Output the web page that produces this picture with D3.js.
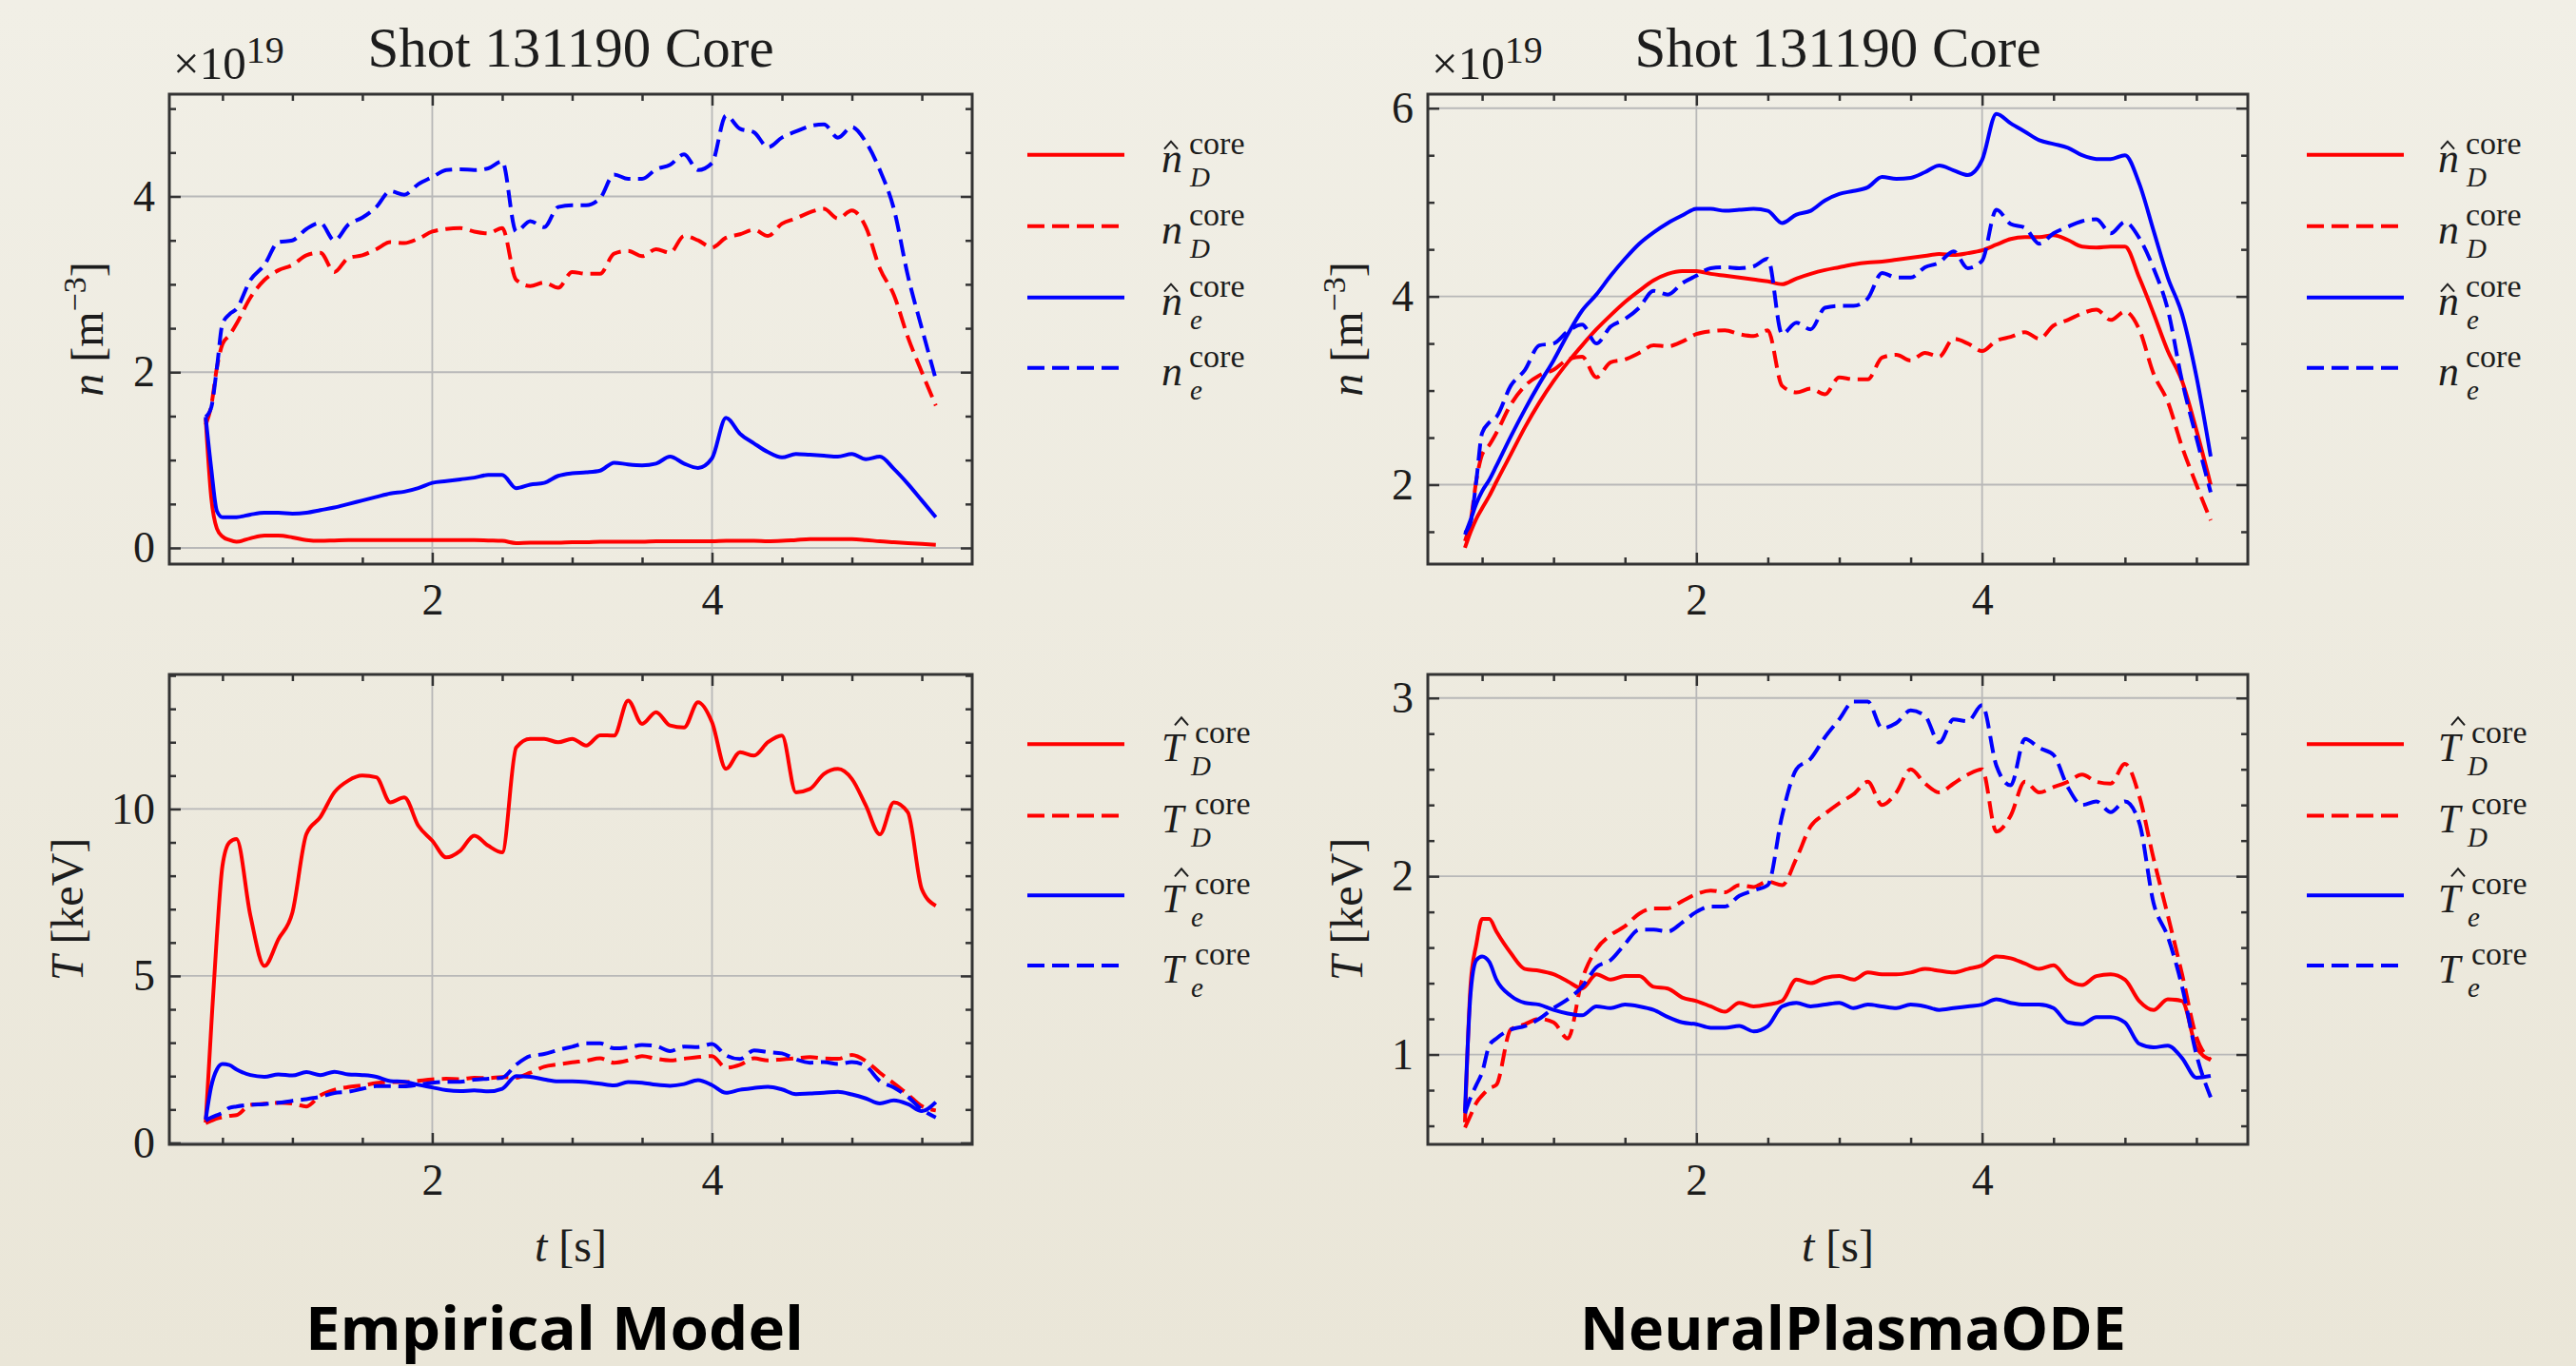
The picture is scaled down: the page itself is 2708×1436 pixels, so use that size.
<!DOCTYPE html>
<html>
<head>
<meta charset="utf-8">
<script src="https://cdn.jsdelivr.net/npm/d3@7"></script>
<style>
  html, body { margin: 0; padding: 0; }
  body { width: 2708px; height: 1436px; overflow: hidden; }
  svg { display: block; }
</style>
</head>
<body>
<script>
// time base shared by every series [s]
const t = [
    0.38, 0.42, 0.46, 0.5, 0.55, 0.6, 0.7, 0.8, 0.9, 1.0,
    1.1, 1.2, 1.3, 1.4, 1.5, 1.6, 1.7, 1.8, 1.9, 2.0,
    2.1, 2.2, 2.3, 2.4, 2.5, 2.6, 2.7, 2.8, 2.9, 3.0,
    3.1, 3.2, 3.3, 3.4, 3.5, 3.6, 3.7, 3.8, 3.9, 4.0,
    4.1, 4.2, 4.3, 4.4, 4.5, 4.6, 4.7, 4.8, 4.9, 5.0,
    5.1, 5.2, 5.3, 5.4, 5.5, 5.6]

// densities, x1e19 m^-3
const nD_meas = [
    1.4, 1.62, 2.05, 2.32, 2.42, 2.55, 2.85, 3.05, 3.16, 3.22,
    3.33, 3.36, 3.14, 3.3, 3.33, 3.4, 3.48, 3.47, 3.52, 3.6,
    3.63, 3.64, 3.6, 3.58, 3.64, 3.05, 2.98, 3.02, 2.96, 3.14,
    3.12, 3.12, 3.35, 3.38, 3.32, 3.4, 3.36, 3.55, 3.5, 3.42,
    3.53, 3.57, 3.62, 3.55, 3.69, 3.75, 3.82, 3.86, 3.75, 3.84,
    3.65, 3.18, 2.88, 2.4, 2.0, 1.62]
const ne_meas = [
    1.49, 1.6, 2.05, 2.55, 2.66, 2.72, 3.05, 3.22, 3.48, 3.5,
    3.63, 3.7, 3.5, 3.68, 3.76, 3.88, 4.06, 4.02, 4.14, 4.22,
    4.3, 4.31, 4.3, 4.32, 4.4, 3.6, 3.72, 3.65, 3.88, 3.9,
    3.9, 3.98, 4.25, 4.2, 4.2, 4.31, 4.36, 4.48, 4.3, 4.38,
    4.92, 4.77, 4.73, 4.56, 4.67, 4.74, 4.8, 4.82, 4.67, 4.79,
    4.62, 4.3, 3.86, 3.1, 2.5, 1.92]
const nD_emp = [
    1.47, 0.57, 0.22, 0.13, 0.09, 0.07, 0.11, 0.14, 0.14, 0.12,
    0.09, 0.08, 0.085, 0.09, 0.09, 0.09, 0.09, 0.09, 0.09, 0.09,
    0.09, 0.09, 0.09, 0.085, 0.08, 0.055, 0.06, 0.06, 0.06, 0.065,
    0.065, 0.07, 0.07, 0.07, 0.07, 0.075, 0.075, 0.075, 0.075, 0.075,
    0.08, 0.08, 0.08, 0.075, 0.08, 0.09, 0.1, 0.1, 0.1, 0.1,
    0.09, 0.075, 0.065, 0.055, 0.045, 0.035]
const ne_emp = [
    1.49, 0.9, 0.42, 0.35, 0.35, 0.35, 0.38, 0.40, 0.40, 0.39,
    0.40, 0.43, 0.46, 0.50, 0.54, 0.58, 0.62, 0.64, 0.68, 0.74,
    0.76, 0.78, 0.80, 0.83, 0.83, 0.68, 0.72, 0.74, 0.82, 0.85,
    0.86, 0.88, 0.97, 0.95, 0.94, 0.96, 1.04, 0.96, 0.91, 1.02,
    1.48, 1.30, 1.19, 1.09, 1.03, 1.07, 1.06, 1.05, 1.04, 1.07,
    1.01, 1.04, 0.90, 0.73, 0.54, 0.35]
const nD_node = [
    1.33, 1.5, 1.64, 1.75, 1.88, 2.03, 2.32, 2.61, 2.87, 3.1,
    3.30, 3.48, 3.65, 3.80, 3.94, 4.06, 4.17, 4.24, 4.27, 4.27,
    4.24, 4.22, 4.2, 4.18, 4.16, 4.13, 4.19, 4.24, 4.28, 4.31,
    4.34, 4.36, 4.37, 4.39, 4.41, 4.43, 4.45, 4.44, 4.46, 4.49,
    4.55, 4.61, 4.63, 4.63, 4.65, 4.6, 4.53, 4.52, 4.53, 4.53,
    4.2, 3.82, 3.42, 3.1, 2.58, 2.0]
const ne_node = [
    1.47, 1.63, 1.8, 1.93, 2.05, 2.2, 2.51, 2.8, 3.07, 3.32,
    3.6, 3.85, 4.02, 4.22, 4.4, 4.56, 4.68, 4.78, 4.86, 4.93,
    4.93, 4.91, 4.92, 4.93, 4.91, 4.78, 4.87, 4.91, 5.02, 5.09,
    5.12, 5.16, 5.27, 5.25, 5.26, 5.32, 5.39, 5.34, 5.29, 5.45,
    5.94, 5.84, 5.75, 5.66, 5.62, 5.58, 5.5, 5.46, 5.46, 5.5,
    5.2, 4.7, 4.2, 3.81, 3.15, 2.3]

// temperatures, keV
const TD_meas = [
    0.59, 0.66, 0.73, 0.77, 0.81, 0.83, 1.14, 1.17, 1.2, 1.18,
    1.09, 1.42, 1.59, 1.67, 1.72, 1.79, 1.82, 1.82, 1.86, 1.9,
    1.92, 1.91, 1.95, 1.94, 1.97, 1.95, 2.1, 2.28, 2.35, 2.41,
    2.46, 2.53, 2.4, 2.47, 2.6, 2.52, 2.47, 2.52, 2.57, 2.6,
    2.25, 2.34, 2.53, 2.47, 2.5, 2.53, 2.57, 2.53, 2.52, 2.63,
    2.45, 2.1, 1.78, 1.45, 1.1, 0.97]
const Te_meas = [
    0.67, 0.76, 0.83, 0.9, 1.05, 1.09, 1.14, 1.16, 1.2, 1.26,
    1.31, 1.38, 1.49, 1.53, 1.62, 1.7, 1.7, 1.69, 1.74, 1.8,
    1.83, 1.83, 1.89, 1.92, 1.95, 2.34, 2.6, 2.66, 2.78, 2.88,
    2.98, 2.98, 2.83, 2.86, 2.93, 2.9, 2.75, 2.88, 2.87, 2.96,
    2.62, 2.51, 2.77, 2.72, 2.68, 2.5, 2.4, 2.42, 2.36, 2.42,
    2.3, 1.85, 1.66, 1.38, 1.0, 0.76]
const TD_emp = [
    0.61, 3.5, 6.2, 8.3, 9.0, 9.1, 6.8, 5.3, 6.1, 6.9,
    9.25, 9.76, 10.5, 10.85, 11.0, 10.95, 10.2, 10.35, 9.5, 9.05,
    8.55, 8.75, 9.2, 8.9, 8.7, 11.84, 12.1, 12.1, 12.0, 12.1,
    11.9, 12.21, 12.2, 13.25, 12.55, 12.9, 12.5, 12.44, 13.2, 12.6,
    11.2, 11.7, 11.6, 12.0, 12.2, 10.5, 10.6, 11.05, 11.2, 10.9,
    10.1, 9.24, 10.2, 9.9, 7.6, 7.1]
const Te_emp = [
    0.7, 1.7, 2.2, 2.36, 2.33, 2.2, 2.03, 1.98, 2.05, 2.02,
    2.12, 2.03, 2.13, 2.05, 2.03, 1.98, 1.85, 1.83, 1.74, 1.66,
    1.58, 1.55, 1.57, 1.54, 1.62, 2.0, 1.98, 1.9, 1.84, 1.84,
    1.82, 1.77, 1.72, 1.82, 1.8, 1.74, 1.71, 1.76, 1.88, 1.73,
    1.5, 1.59, 1.64, 1.68, 1.6, 1.46, 1.48, 1.5, 1.53, 1.45,
    1.33, 1.18, 1.27, 1.16, 0.95, 1.22]
const TD_node = [
    0.62, 1.4, 1.62, 1.76, 1.76, 1.69, 1.57, 1.48, 1.47, 1.45,
    1.41, 1.37, 1.45, 1.42, 1.44, 1.44, 1.38, 1.37, 1.32, 1.3,
    1.27, 1.24, 1.29, 1.27, 1.28, 1.3, 1.42, 1.4, 1.43, 1.44,
    1.42, 1.46, 1.45, 1.45, 1.46, 1.48, 1.47, 1.46, 1.48, 1.5,
    1.55, 1.54, 1.51, 1.48, 1.5, 1.42, 1.39, 1.44, 1.45, 1.42,
    1.3, 1.25, 1.31, 1.3, 1.04, 0.97]
const Te_node = [
    0.68, 1.35, 1.53, 1.55, 1.52, 1.42, 1.33, 1.29, 1.28, 1.25,
    1.23, 1.22, 1.27, 1.26, 1.28, 1.27, 1.25, 1.21, 1.18, 1.17,
    1.15, 1.15, 1.16, 1.13, 1.16, 1.27, 1.29, 1.27, 1.28, 1.29,
    1.26, 1.28, 1.27, 1.26, 1.28, 1.27, 1.25, 1.26, 1.27, 1.28,
    1.31, 1.29, 1.28, 1.28, 1.26, 1.18, 1.17, 1.21, 1.21, 1.18,
    1.06, 1.04, 1.05, 0.98, 0.87, 0.88]

// ticks and labels
const xTicks = [2, 4]
const nTicksEmp = [0, 2, 4]
const nTicksNode = [2, 4, 6]
const TTicksEmp = [0, 5, 10]
const TTicksNode = [1, 2, 3]
const titleText = "Shot 131190 Core"
const captions = ["Empirical Model", "NeuralPlasmaODE"]

const W = 2708, H = 1436
const serif = "'Liberation Serif', 'DejaVu Serif', serif"
const ink = "#1c1c1c"
const red = "#ff0000", blue = "#0000ff"

const svg = d3.select("body").append("svg")
    .attr("width", W)
    .attr("height", H)

const grad = svg.append("defs").append("linearGradient")
    .attr("id", "bg").attr("x1", 0).attr("y1", 0).attr("x2", 0).attr("y2", 1)
grad.append("stop").attr("offset", "0%").attr("stop-color", "#f1efe6")
grad.append("stop").attr("offset", "100%").attr("stop-color", "#eae6d8")
svg.append("rect").attr("width", W).attr("height", H).attr("fill", "url(#bg)")

const legTop = [162.7, 237.7, 312.7, 386.7]
const legBot = [782.3, 857.4, 941.3, 1015.1]

const panels = [
    {l: 178, r: 1022, tp: 99, b: 593, ylim: [-0.184, 5.164], yt: nTicksEmp, ym: 0.5,
     sym: "n", ys: [nD_emp, nD_meas, ne_emp, ne_meas], leg: legTop, legX: 1080, labX: 1221,
     ylabX: 108, top: true},
    {l: 1501, r: 2363, tp: 99, b: 593, ylim: [1.156, 6.149], yt: nTicksNode, ym: 0.5,
     sym: "n", ys: [nD_node, nD_meas, ne_node, ne_meas], leg: legTop, legX: 2425, labX: 2563,
     ylabX: 1432, top: true},
    {l: 178, r: 1022, tp: 709, b: 1203, ylim: [-0.045, 14.03], yt: TTicksEmp, ym: 1,
     sym: "T", ys: [TD_emp, TD_meas, Te_emp, Te_meas], leg: legBot, legX: 1080, labX: 1221,
     ylabX: 87, top: false, caption: captions[0], capX: 583, capW: 524},
    {l: 1501, r: 2363, tp: 709, b: 1203, ylim: [0.496, 3.132], yt: TTicksNode, ym: 0.2,
     sym: "T", ys: [TD_node, TD_meas, Te_node, Te_meas], leg: legBot, legX: 2425, labX: 2563,
     ylabX: 1432, top: false, caption: captions[1], capX: 1948, capW: 574},
]

const styles = [
    {color: red, dash: null, sub: "D", hat: true},
    {color: red, dash: "18,8", sub: "D", hat: false},
    {color: blue, dash: null, sub: "e", hat: true},
    {color: blue, dash: "18,8", sub: "e", hat: false},
]

function styleAxis(g, labels) {
    g.select(".domain").remove()
    g.selectAll(".tick line").attr("stroke", "#333").attr("stroke-width", 2.5)
    g.selectAll(".tick text")
        .attr("fill", ink)
        .attr("font-family", serif)
        .attr("font-size", 46)
    if (!labels) g.selectAll(".tick text").remove()
}

panels.forEach((p) => {
    const x = d3.scaleLinear().domain([0.12, 5.86]).range([p.l, p.r])
    const y = d3.scaleLinear().domain(p.ylim).range([p.b, p.tp])
    const g = svg.append("g")

    const xMinor = d3.range(0.5, 5.86, 0.5).filter((v) => !xTicks.includes(v))
    const yMinor = d3.range(Math.ceil(p.ylim[0] / p.ym) * p.ym, p.ylim[1], p.ym)
        .map((v) => +v.toFixed(3))
        .filter((v) => !p.yt.includes(v))

    // grid
    g.selectAll("line.gx").data(xTicks).join("line")
        .attr("x1", (d) => x(d)).attr("x2", (d) => x(d))
        .attr("y1", p.tp).attr("y2", p.b)
        .attr("stroke", "#b8b8b8").attr("stroke-width", 1.8)
    g.selectAll("line.gy").data(p.yt.filter((v) => v > p.ylim[0] && v < p.ylim[1])).join("line")
        .attr("x1", p.l).attr("x2", p.r)
        .attr("y1", (d) => y(d)).attr("y2", (d) => y(d))
        .attr("stroke", "#b8b8b8").attr("stroke-width", 1.8)

    // axes, ticks pointing inward on all four sides
    const fmt = d3.format("d")
    g.append("g").attr("transform", `translate(0,${p.b})`)
        .call(d3.axisBottom(x).tickValues(xTicks).tickSize(-12).tickPadding(20).tickFormat(fmt))
        .call((a) => styleAxis(a, true))
    g.append("g").attr("transform", `translate(0,${p.b})`)
        .call(d3.axisBottom(x).tickValues(xMinor).tickSize(-7).tickFormat(""))
        .call((a) => styleAxis(a, false))
    g.append("g").attr("transform", `translate(0,${p.tp})`)
        .call(d3.axisTop(x).tickValues(xTicks).tickSize(-12).tickFormat(""))
        .call((a) => styleAxis(a, false))
    g.append("g").attr("transform", `translate(0,${p.tp})`)
        .call(d3.axisTop(x).tickValues(xMinor).tickSize(-7).tickFormat(""))
        .call((a) => styleAxis(a, false))
    g.append("g").attr("transform", `translate(${p.l},0)`)
        .call(d3.axisLeft(y).tickValues(p.yt).tickSize(-12).tickPadding(15).tickFormat(fmt))
        .call((a) => styleAxis(a, true))
    g.append("g").attr("transform", `translate(${p.l},0)`)
        .call(d3.axisLeft(y).tickValues(yMinor).tickSize(-7).tickFormat(""))
        .call((a) => styleAxis(a, false))
    g.append("g").attr("transform", `translate(${p.r},0)`)
        .call(d3.axisRight(y).tickValues(p.yt).tickSize(-12).tickFormat(""))
        .call((a) => styleAxis(a, false))
    g.append("g").attr("transform", `translate(${p.r},0)`)
        .call(d3.axisRight(y).tickValues(yMinor).tickSize(-7).tickFormat(""))
        .call((a) => styleAxis(a, false))

    g.append("rect")
        .attr("x", p.l).attr("y", p.tp)
        .attr("width", p.r - p.l).attr("height", p.b - p.tp)
        .attr("fill", "none").attr("stroke", "#333").attr("stroke-width", 3)

    // curves
    const line = d3.line()
        .x((d) => x(d[0]))
        .y((d) => y(d[1]))
        .curve(d3.curveMonotoneX)
    p.ys.forEach((vals, i) => {
        const s = styles[i]
        g.append("path")
            .attr("d", line(t.map((tt, k) => [tt, vals[k]])))
            .attr("fill", "none")
            .attr("stroke", s.color)
            .attr("stroke-width", 4)
            .attr("stroke-linejoin", "round")
            .attr("stroke-dasharray", s.dash)
    })

    // legend: symbol, superscript and subscript kept in one text element
    const isT = p.sym === "T"
    styles.forEach((s, i) => {
        const ly = p.leg[i]
        g.append("line")
            .attr("x1", p.legX).attr("x2", p.legX + 102)
            .attr("y1", ly).attr("y2", ly)
            .attr("stroke", s.color).attr("stroke-width", 4)
            .attr("stroke-dasharray", s.dash)
        const lab = g.append("text")
            .attr("font-family", serif).attr("fill", ink)
        lab.append("tspan")
            .attr("x", p.labX).attr("y", ly + 18)
            .attr("font-style", "italic").attr("font-size", isT ? 42 : 44)
            .text(p.sym)
        lab.append("tspan")
            .attr("x", p.labX + (isT ? 35 : 29)).attr("y", ly - 1)
            .attr("font-size", 34)
            .text("core")
        lab.append("tspan")
            .attr("x", p.labX + (isT ? 31 : 30)).attr("y", ly + 33)
            .attr("font-style", "italic").attr("font-size", 29)
            .text(s.sub)
        if (s.hat) {
            const cx = p.labX + (isT ? 21 : 10)
            const cy = ly + (isT ? -24 : -10)
            g.append("path")
                .attr("d", `M${cx - 7},${cy + 4}L${cx},${cy - 4}L${cx + 7},${cy + 4}`)
                .attr("fill", "none").attr("stroke", ink).attr("stroke-width", 2)
        }
    })

    // y label
    const yl = g.append("text")
        .attr("transform", `translate(${p.ylabX},${(p.tp + p.b) / 2}) rotate(-90)`)
        .attr("text-anchor", "middle")
        .attr("font-family", serif).attr("font-size", 48).attr("fill", ink)
    yl.append("tspan").attr("font-style", "italic").text(p.sym)
    if (p.sym === "n") {
        yl.append("tspan").text(" [m")
        yl.append("tspan").attr("dy", -18).attr("font-size", 34).text("\u22123")
        yl.append("tspan").attr("dy", 18).text("]")
    } else {
        yl.append("tspan").text(" [keV]")
    }

    if (p.top) {
        g.append("text")
            .attr("x", (p.l + p.r) / 2).attr("y", 70)
            .attr("text-anchor", "middle")
            .attr("font-family", serif).attr("font-size", 59).attr("fill", ink)
            .text(titleText)
        const off = g.append("text")
            .attr("x", p.l + 4).attr("y", 83)
            .attr("font-family", serif).attr("font-size", 49).attr("fill", ink)
        off.append("tspan").text("\u00d710")
        off.append("tspan").attr("dy", -17).attr("font-size", 40).text("19")
    } else {
        const xl = g.append("text")
            .attr("x", (p.l + p.r) / 2).attr("y", 1326)
            .attr("text-anchor", "middle")
            .attr("font-family", serif).attr("font-size", 48).attr("fill", ink)
        xl.append("tspan").attr("font-style", "italic").text("t")
        xl.append("tspan").text(" [s]")

        svg.append("text")
            .attr("x", p.capX).attr("y", 1419)
            .attr("text-anchor", "middle")
            .attr("font-family", "'Open Sans', 'Noto Sans', sans-serif")
            .attr("font-weight", 700).attr("font-size", 63).attr("fill", "#000")
            .attr("textLength", p.capW).attr("lengthAdjust", "spacingAndGlyphs")
            .text(p.caption)
    }
})
</script>
</body>
</html>
